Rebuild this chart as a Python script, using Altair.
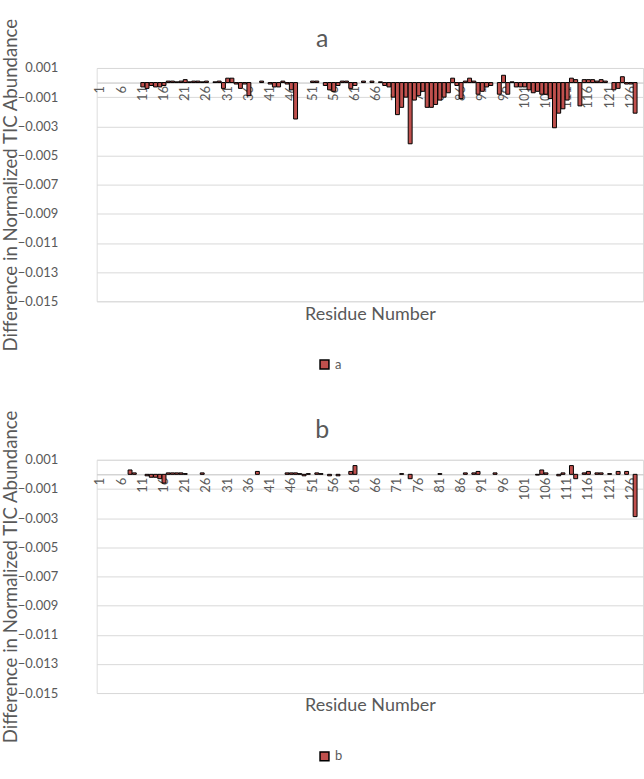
import altair as alt
import pandas as pd

FONT = "Lato"
GREY = "#595959"
BAR_FILL = "#c0504d"

residues = list(range(1, 129))
x_tick_labels = list(range(1, 129, 5))
y_ticks = [0.001, -0.001, -0.003, -0.005, -0.007, -0.009, -0.011, -0.013, -0.015]

# Difference in normalized TIC abundance, residues 1-128
diff_a = [
    0, 0, 0, 0, 0, 0, 0, 0, 0, 0,
    -0.0003, -0.0004, -0.0002, -0.0003, -0.0003, -0.0002, 0.0001, 0.0001, 0.00005, 0.0001,
    0.0002, 0.00005, 0.0001, 0.0001, 0.00005, 0.0001, 0, 0.00005, 0.0001, -0.0004,
    0.0003, 0.0003, -0.0001, -0.0004, -0.0001, -0.0009, 0, 0, 0.0001, 0,
    -0.0001, -0.0003, -0.0003, 0.0001, -0.0001, -0.0005, -0.0025, 0, 0, 0,
    0.0001, 0.0001, 0, -0.0002, -0.0005, -0.0006, -0.0002, 0.0001, 0.0001, -0.0004,
    -0.0002, 0, 0.0001, 0, 0.0001, 0, 0.00005, -0.0002, -0.0003, -0.0010,
    -0.0022, -0.0017, -0.0010, -0.0042, -0.0012, -0.0009, -0.0006, -0.0017, -0.0017, -0.0015,
    -0.0012, -0.0010, -0.0007, 0.0003, -0.0002, -0.0011, 0.0001, 0.0003, 0.0001, -0.0008,
    -0.0006, -0.0003, -0.0002, 0, -0.0008, 0.0005, -0.0008, 0.00005, -0.0003, -0.0003,
    -0.0003, -0.0005, -0.0007, -0.0006, -0.0008, -0.0008, -0.0011, -0.0031, -0.0021, -0.0018,
    -0.0012, 0.0003, 0.0002, -0.0016, 0.0002, 0.0002, 0.0002, 0.0001, 0.0002, 0.0001,
    0, -0.0005, -0.0004, 0.0004, -0.0001, -0.0001, -0.0021, 0,
]

diff_b = [
    0, 0, 0, 0, 0, 0, 0, 0.0003, 0.0001, 0,
    0, -0.0001, -0.0002, -0.0002, -0.0003, -0.0006, 0.0001, 0.0001, 0.0001, 0.0001,
    0.00005, 0, 0, 0, 0.0001, 0, 0, 0, 0, 0,
    0, 0, 0, 0, 0, 0, 0, 0.0002, 0, 0,
    0, 0, 0, 0, 0.0001, 0.0001, 0.0001, 0.00005, -0.0001, 0.00005,
    0, 0.0001, 0.00005, 0, -0.0001, 0, -0.0001, 0, 0, 0.0002,
    0.0006, 0, 0, 0, 0, 0, 0, 0, 0, 0,
    0, 0.00005, 0, -0.0003, 0, 0, 0, 0, 0, 0,
    0.00005, 0, 0, 0, 0, 0, 0.0001, 0, 0.0001, 0.0002,
    0, 0, 0, 0.0001, 0, 0, 0, 0, 0, 0,
    0, 0, 0, -0.00005, 0.0003, 0.0001, 0, 0, -0.0001, 0.0001,
    0, 0.0006, -0.0003, 0, 0.0001, 0.0002, 0, 0.0001, 0.0001, 0,
    0.00005, 0, 0.0002, 0, 0.0002, 0, -0.0029, 0,
]

PLOT_W = 548
PLOT_H = 234
Y_MIN, Y_MAX = -0.015, 0.001
# distance of the zero line above the bottom of the plot
ZERO_FROM_BOTTOM = PLOT_H * (0 - Y_MIN) / (Y_MAX - Y_MIN)
ZERO_FROM_TOP = PLOT_H - ZERO_FROM_BOTTOM


def panel(values, name):
    df = pd.DataFrame({"Residue": residues, "Difference": values, "Series": name})
    df = df[df["Difference"] != 0]
    return (
        alt.Chart(
            df,
            # the long y title reaches above the plot, so pull the panel title down
            title=alt.TitleParams(
                name, fontSize=25, color=GREY, font=FONT, fontWeight="normal",
                anchor="middle", frame="bounds", offset=-34,
            ),
        )
        .mark_bar(stroke="black", strokeWidth=1)
        .encode(
            x=alt.X(
                "Residue:O",
                scale=alt.Scale(domain=residues, paddingInner=0.08, paddingOuter=0.4),
                axis=alt.Axis(
                    values=x_tick_labels, labelAngle=270, offset=-ZERO_FROM_BOTTOM,
                    ticks=False, domainColor="#bfbfbf", domainWidth=1,
                    labelColor=GREY, labelFont=FONT, labelFontSize=13, labelPadding=3,
                    title="Residue Number", titleFont=FONT, titleFontSize=18,
                    titleFontWeight="normal", titleColor=GREY,
                    titleY=PLOT_H - ZERO_FROM_TOP + 4, titleBaseline="top",
                ),
            ),
            y=alt.Y(
                "Difference:Q",
                scale=alt.Scale(domain=[Y_MIN, Y_MAX], nice=False),
                axis=alt.Axis(
                    values=y_ticks, format=".3f", domain=False, ticks=False,
                    gridColor="#d9d9d9", gridWidth=1,
                    labelColor=GREY, labelFont=FONT, labelFontSize=13, labelPadding=39,
                    title="Difference in Normalized TIC Abundance", titleFont=FONT,
                    titleFontSize=18.7, titleFontWeight="normal", titleColor=GREY,
                    titlePadding=-3,
                ),
            ),
            color=alt.Color(
                "Series:N",
                scale=alt.Scale(domain=[name], range=[BAR_FILL]),
                legend=alt.Legend(
                    title=None, orient="none", legendX=222, legendY=291,
                    symbolType="square", symbolSize=80, symbolStrokeColor="black",
                    symbolStrokeWidth=1.5, labelFont=FONT, labelFontSize=13,
                    labelColor=GREY,
                ),
            ),
        )
        .properties(width=PLOT_W, height=PLOT_H)
    )


chart = (
    alt.vconcat(panel(diff_a, "a"), panel(diff_b, "b"), spacing=159, bounds="flush")
    .resolve_scale(color="independent")
    .resolve_legend(color="independent")
    .properties(padding={"left": 0, "top": 16, "right": 0, "bottom": 0})
    .configure_view(stroke=None)
    .configure(background="white")
)

chart.save("out.html", embed_options={"renderer": "svg", "actions": False})
